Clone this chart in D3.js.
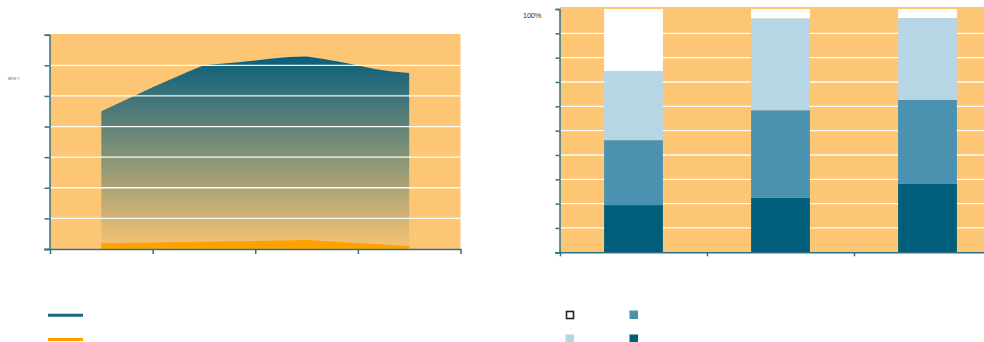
<!DOCTYPE html>
<html>
<head>
<meta charset="utf-8">
<script src="https://cdn.jsdelivr.net/npm/d3@7/dist/d3.min.js"></script>
<style>
  html, body { margin: 0; padding: 0; background: #fff; }
  svg { display: block; }
</style>
</head>
<body>
<svg id="chart" width="984" height="342"></svg>
<script>
// ---- Left panel: monthly totals (area) ----
const monthsTotal = [6, 8, 10, 12, 14, 16, 18, 20, 22, 24, 26, 28, 30, 32, 34, 36, 38, 40, 42];
const valuesTotal = [4.50, 4.76, 5.02, 5.28, 5.53, 5.77, 6.00, 6.05, 6.10, 6.16, 6.22, 6.27, 6.29, 6.21, 6.11, 5.99, 5.88, 5.80, 5.75];
const monthsPart = [6, 18, 30, 42];
const valuesPart = [0.19, 0.24, 0.29, 0.10];
const leftXTicks = [0, 12, 24, 36, 48];
const leftYTicks = [0, 1, 2, 3, 4, 5, 6, 7];

// ---- Right panel: shares per group (stacked to 100%) ----
const groups = ["I", "II", "III"];
const shareDark   = [19.4, 22.4, 28.1];
const shareMedium = [26.7, 36.0, 34.5];
const shareLight  = [28.4, 37.8, 33.7];
const shareWhite  = [25.5, 3.8, 3.7];
const rightYTicks = [0, 10, 20, 30, 40, 50, 60, 70, 80, 90, 100];

const ORANGE_BG = "#fdc674";
const TEAL = "#0a5e7b";
const AXIS = "#2c7389";

const svg = d3.select("#chart");

// ================= Left panel =================
const xL = d3.scaleLinear().domain([0, 48]).range([50, 460.5]);
const yL = d3.scaleLinear().domain([0, 7]).range([249, 34.7]);

const left = svg.append("g");

left.append("rect")
  .attr("x", xL(0)).attr("y", yL(7) - 0.7)
  .attr("width", xL(48) - xL(0)).attr("height", yL(0) - yL(7) + 0.7)
  .attr("fill", ORANGE_BG);

// teal fading linearly towards the baseline
const defs = svg.append("defs");
const grad = defs.append("linearGradient")
  .attr("id", "tealFade")
  .attr("gradientUnits", "userSpaceOnUse")
  .attr("x1", 0).attr("x2", 0)
  .attr("y1", yL(d3.max(valuesTotal))).attr("y2", yL(0));
grad.append("stop").attr("offset", 0).attr("stop-color", TEAL).attr("stop-opacity", 1);
grad.append("stop").attr("offset", 1).attr("stop-color", TEAL).attr("stop-opacity", 0.02);

const totalData = monthsTotal.map((m, i) => ({ m, v: valuesTotal[i] }));
const partData = monthsPart.map((m, i) => ({ m, v: valuesPart[i] }));

const areaGen = d3.area()
  .x(d => xL(d.m))
  .y0(yL(0))
  .y1(d => yL(d.v));

left.append("path")
  .datum(totalData)
  .attr("d", areaGen)
  .attr("fill", "url(#tealFade)");

// grid lines sit over the teal area
left.append("g")
  .selectAll("line")
  .data(leftYTicks.filter(t => t > 0 && t < 7))
  .join("line")
  .attr("x1", xL(0)).attr("x2", xL(48))
  .attr("y1", d => yL(d)).attr("y2", d => yL(d))
  .attr("stroke", "#fff").attr("stroke-width", 1.3).attr("stroke-opacity", 0.95);

left.append("path")
  .datum(partData)
  .attr("d", areaGen)
  .attr("fill", "#ffa200");

// axes
const axisLX = d3.axisBottom(xL).tickValues(leftXTicks).tickSize(5).tickFormat("");
const gxL = left.append("g").attr("transform", `translate(0,${yL(0)})`).call(axisLX);
const axisLY = d3.axisLeft(yL).tickValues(leftYTicks).tickSize(5).tickFormat("");
const gyL = left.append("g").attr("transform", `translate(${xL(0) - 0.5},0)`).call(axisLY);
[gxL, gyL].forEach(g => {
  g.select(".domain").attr("stroke", AXIS).attr("stroke-width", 1.5);
  g.selectAll(".tick line").attr("stroke", AXIS).attr("stroke-width", 1.5);
});
gxL.select(".domain").attr("d", `M${xL(0) - 6},0.5H${xL(48) + 1}`);

left.append("text")
  .attr("x", 8).attr("y", 80)
  .attr("font-family", "Liberation Sans, Arial, sans-serif")
  .attr("font-size", 4.5)
  .attr("fill", "#777")
  .text("млн т");

// legend lines
left.append("line").attr("x1", 48).attr("x2", 83).attr("y1", 315.3).attr("y2", 315.3)
  .attr("stroke", "#17677f").attr("stroke-width", 3);
left.append("line").attr("x1", 48).attr("x2", 83).attr("y1", 339.5).attr("y2", 339.5)
  .attr("stroke", "#ffa200").attr("stroke-width", 3);

// ================= Right panel =================
const xR = d3.scaleBand().domain(groups).range([560, 1001]).paddingInner(0.6).paddingOuter(0.3);
const yR = d3.scaleLinear().domain([0, 100]).range([252.3, 9]);

const right = svg.append("g");

right.append("rect")
  .attr("x", 560).attr("y", yR(100) - 2)
  .attr("width", 441).attr("height", yR(0) - yR(100) + 2)
  .attr("fill", ORANGE_BG);

right.append("g")
  .selectAll("line")
  .data(rightYTicks.filter(t => t > 0 && t < 100))
  .join("line")
  .attr("x1", 560).attr("x2", 1001)
  .attr("y1", d => yR(d)).attr("y2", d => yR(d))
  .attr("stroke", "#fff").attr("stroke-width", 1.3).attr("stroke-opacity", 0.95);

const seriesKeys = ["dark", "medium", "light", "white"];
const seriesColors = { dark: "#005e7b", medium: "#4a92af", light: "#b7d6e5", white: "#ffffff" };
const table = groups.map((g, i) => ({
  group: g, dark: shareDark[i], medium: shareMedium[i], light: shareLight[i], white: shareWhite[i]
}));
const stacked = d3.stack().keys(seriesKeys)(table);

right.append("g")
  .selectAll("g")
  .data(stacked)
  .join("g")
  .attr("fill", s => seriesColors[s.key])
  .selectAll("rect")
  .data(s => s)
  .join("rect")
  .attr("x", d => xR(d.data.group))
  .attr("width", xR.bandwidth())
  .attr("y", d => yR(d[1]))
  .attr("height", d => yR(d[0]) - yR(d[1]));

const step = xR.step();
const axisRX = d3.axisBottom(d3.scaleLinear().domain([0, 3]).range([560, 560 + 3 * step]))
  .tickValues([0, 1, 2, 3]).tickSize(4).tickFormat("");
const gxR = right.append("g").attr("transform", `translate(0,${yR(0)})`).call(axisRX);
const axisRY = d3.axisLeft(yR).tickValues(rightYTicks).tickSize(4).tickFormat("");
const gyR = right.append("g").attr("transform", `translate(559.5,0)`).call(axisRY);
[gxR, gyR].forEach(g => {
  g.select(".domain").attr("stroke", AXIS).attr("stroke-width", 1.5);
  g.selectAll(".tick line").attr("stroke", AXIS).attr("stroke-width", 1.5);
});
gxR.select(".domain").attr("d", `M555,0.5H1001`);

right.append("text")
  .attr("x", 541).attr("y", 17.5)
  .attr("text-anchor", "end")
  .attr("font-family", "Liberation Sans, Arial, sans-serif")
  .attr("font-size", 7.5)
  .attr("letter-spacing", -0.3)
  .attr("fill", "#333")
  .text("100%");

// legend squares
const legendR = [
  { key: "white", x: 566.5, y: 311.5 },
  { key: "medium", x: 629.5, y: 310.5 },
  { key: "light", x: 565.5, y: 334.5 },
  { key: "dark", x: 629.5, y: 334.5 }
];
right.append("g")
  .selectAll("rect")
  .data(legendR)
  .join("rect")
  .attr("x", d => d.x).attr("y", d => d.y)
  .attr("width", d => d.key === "white" ? 7 : 8.5)
  .attr("height", d => d.key === "white" ? 7 : 8.5)
  .attr("fill", d => seriesColors[d.key])
  .attr("stroke", d => d.key === "white" ? "#222" : "none")
  .attr("stroke-width", 1.6);
</script>
</body>
</html>
